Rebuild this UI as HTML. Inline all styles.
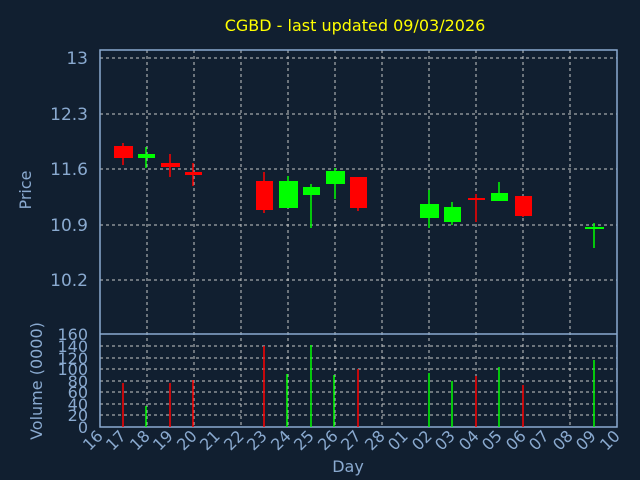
<!DOCTYPE html><html><head><style>html,body{margin:0;padding:0;overflow:hidden;width:640px;height:480px;background:#111f30}svg{display:block}svg text{font-family:"DejaVu Sans","Liberation Sans",sans-serif}</style></head><body>
<svg width="640" height="480" xmlns="http://www.w3.org/2000/svg">
<rect width="640" height="480" fill="#111f30"/>
<text x="355" y="31" fill="#ffff00" font-size="16" text-anchor="middle">CGBD - last updated 09/03/2026</text>
<g stroke="#c8c8c8" stroke-dasharray="3,3" stroke-width="1">
<line x1="100" x2="617" y1="58" y2="58"/><line x1="100" x2="617" y1="114" y2="114"/><line x1="100" x2="617" y1="169" y2="169"/><line x1="100" x2="617" y1="225" y2="225"/><line x1="100" x2="617" y1="280" y2="280"/>
<line x1="100" x2="617" y1="346" y2="346"/><line x1="100" x2="617" y1="358" y2="358"/><line x1="100" x2="617" y1="369" y2="369"/><line x1="100" x2="617" y1="381" y2="381"/><line x1="100" x2="617" y1="392" y2="392"/><line x1="100" x2="617" y1="404" y2="404"/><line x1="100" x2="617" y1="415" y2="415"/>
<line x1="147" x2="147" y1="50" y2="427"/><line x1="194" x2="194" y1="50" y2="427"/><line x1="241" x2="241" y1="50" y2="427"/><line x1="288" x2="288" y1="50" y2="427"/><line x1="335" x2="335" y1="50" y2="427"/><line x1="382" x2="382" y1="50" y2="427"/><line x1="429" x2="429" y1="50" y2="427"/><line x1="476" x2="476" y1="50" y2="427"/><line x1="523" x2="523" y1="50" y2="427"/><line x1="570" x2="570" y1="50" y2="427"/>
</g>
<g fill="none" stroke="#8aaad0" stroke-width="1.5">
<rect x="100" y="50" width="517" height="377"/>
<line x1="100" x2="617" y1="334" y2="334"/>
</g>
<g fill="#8aaad0" font-size="17" text-anchor="end">
<text x="88" y="64">13</text><text x="88" y="120">12.3</text><text x="88" y="175">11.6</text><text x="88" y="231">10.9</text><text x="88" y="286">10.2</text>
</g>
<g fill="#8aaad0" font-size="16" text-anchor="end">
<text x="88" y="340">160</text><text x="88" y="352">140</text><text x="88" y="364">120</text><text x="88" y="375">100</text><text x="88" y="387">80</text><text x="88" y="398">60</text><text x="88" y="410">40</text><text x="88" y="421">20</text><text x="88" y="433">0</text>
</g>
<text transform="translate(31,190) rotate(-90)" fill="#8aaad0" font-size="16" text-anchor="middle">Price</text>
<text transform="translate(42,381) rotate(-90)" fill="#8aaad0" font-size="16" text-anchor="middle">Volume (0000)</text>
<text x="348" y="472" fill="#8aaad0" font-size="16" text-anchor="middle">Day</text>
<g fill="#8aaad0" font-size="16" text-anchor="end">
<text transform="translate(104,437) rotate(-45)">16</text><text transform="translate(127,437) rotate(-45)">17</text><text transform="translate(151,437) rotate(-45)">18</text><text transform="translate(174,437) rotate(-45)">19</text><text transform="translate(198,437) rotate(-45)">20</text><text transform="translate(221,437) rotate(-45)">21</text><text transform="translate(245,437) rotate(-45)">22</text><text transform="translate(268,437) rotate(-45)">23</text><text transform="translate(292,437) rotate(-45)">24</text><text transform="translate(315,437) rotate(-45)">25</text><text transform="translate(339,437) rotate(-45)">26</text><text transform="translate(362,437) rotate(-45)">27</text><text transform="translate(386,437) rotate(-45)">28</text><text transform="translate(409,437) rotate(-45)">01</text><text transform="translate(433,437) rotate(-45)">02</text><text transform="translate(456,437) rotate(-45)">03</text><text transform="translate(480,437) rotate(-45)">04</text><text transform="translate(503,437) rotate(-45)">05</text><text transform="translate(527,437) rotate(-45)">06</text><text transform="translate(550,437) rotate(-45)">07</text><text transform="translate(574,437) rotate(-45)">08</text><text transform="translate(597,437) rotate(-45)">09</text><text transform="translate(621,437) rotate(-45)">10</text>
</g>
<g stroke-width="1.5">
<line x1="123" x2="123" y1="143" y2="165" stroke="#f00"/><rect x="114" y="146" width="19" height="12" fill="#f00"/>
<line x1="146" x2="146" y1="147" y2="168" stroke="#0f0"/><rect x="138" y="154" width="17" height="4" fill="#0f0"/>
<line x1="170" x2="170" y1="154" y2="177" stroke="#f00"/><rect x="161" y="163" width="19" height="4" fill="#f00"/>
<line x1="193" x2="193" y1="163" y2="186" stroke="#f00"/><rect x="185" y="172" width="17" height="3" fill="#f00"/>
<line x1="264" x2="264" y1="172" y2="213" stroke="#f00"/><rect x="256" y="181" width="17" height="29" fill="#f00"/>
<line x1="288" x2="288" y1="176" y2="208" stroke="#0f0"/><rect x="279" y="181" width="19" height="27" fill="#0f0"/>
<line x1="311" x2="311" y1="184" y2="228" stroke="#0f0"/><rect x="303" y="187" width="17" height="8" fill="#0f0"/>
<line x1="335" x2="335" y1="168" y2="199" stroke="#0f0"/><rect x="326" y="171" width="19" height="13" fill="#0f0"/>
<line x1="358" x2="358" y1="177" y2="211" stroke="#f00"/><rect x="350" y="177" width="17" height="31" fill="#f00"/>
<line x1="429" x2="429" y1="190" y2="228" stroke="#0f0"/><rect x="420" y="204" width="19" height="14" fill="#0f0"/>
<line x1="452" x2="452" y1="202" y2="225" stroke="#0f0"/><rect x="444" y="207" width="17" height="15" fill="#0f0"/>
<line x1="476" x2="476" y1="194" y2="222" stroke="#f00"/><rect x="468" y="198" width="17" height="2" fill="#f00"/>
<line x1="499" x2="499" y1="182" y2="201" stroke="#0f0"/><rect x="491" y="193" width="17" height="8" fill="#0f0"/>
<line x1="523" x2="523" y1="196" y2="217" stroke="#f00"/><rect x="515" y="196" width="17" height="20" fill="#f00"/>
<line x1="594" x2="594" y1="223" y2="248" stroke="#0f0"/><rect x="585" y="227" width="19" height="2" fill="#0f0"/>
</g>
<g stroke-width="1.5">
<line x1="123" x2="123" y1="383" y2="427" stroke="#f00"/><line x1="146" x2="146" y1="406" y2="427" stroke="#0f0"/><line x1="170" x2="170" y1="383" y2="427" stroke="#f00"/><line x1="193" x2="193" y1="380" y2="427" stroke="#f00"/><line x1="264" x2="264" y1="346" y2="427" stroke="#f00"/><line x1="287" x2="287" y1="374" y2="427" stroke="#0f0"/><line x1="311" x2="311" y1="345" y2="427" stroke="#0f0"/><line x1="334" x2="334" y1="375" y2="427" stroke="#0f0"/><line x1="358" x2="358" y1="369" y2="427" stroke="#f00"/><line x1="429" x2="429" y1="373" y2="427" stroke="#0f0"/><line x1="452" x2="452" y1="381" y2="427" stroke="#0f0"/><line x1="476" x2="476" y1="376" y2="427" stroke="#f00"/><line x1="499" x2="499" y1="367" y2="427" stroke="#0f0"/><line x1="523" x2="523" y1="385" y2="427" stroke="#f00"/><line x1="594" x2="594" y1="360" y2="427" stroke="#0f0"/>
</g>
</svg></body></html>
